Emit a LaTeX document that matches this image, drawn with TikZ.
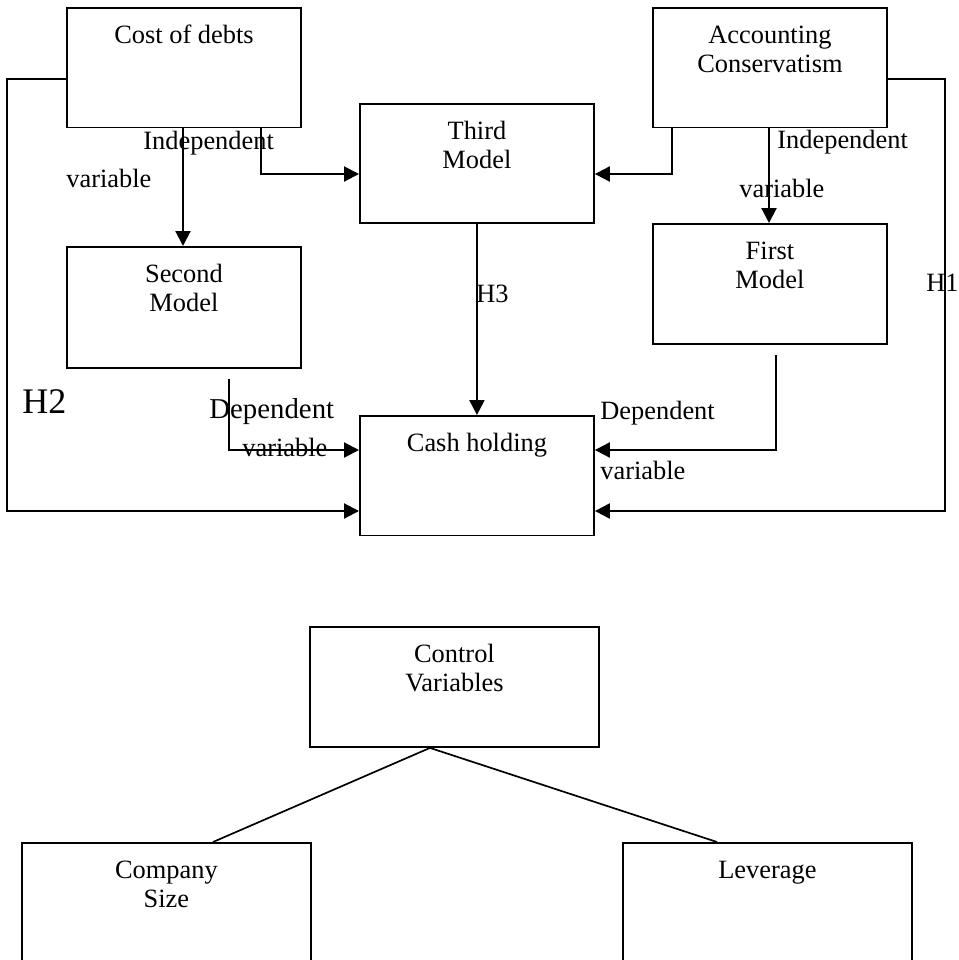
\documentclass[tikz,border=0pt]{standalone}
\usepackage{fontspec}
\setmainfont{Liberation Serif}
\usetikzlibrary{arrows.meta,calc}
\begin{document}
\begin{tikzpicture}[x=0.5pt,y=-0.5pt,
  box/.style={draw, line width=0.95pt, anchor=north west, inner sep=0pt, minimum width=117pt, minimum height=59.75pt},
  wbox/.style={box, minimum width=144.5pt, minimum height=60pt},
  ttl/.style={anchor=base, align=center, inner sep=0pt, font=\fontsize{13.2}{14.8}\selectfont},
  lbl/.style={anchor=base west, inner sep=0pt, font=\fontsize{13.2}{14.8}\selectfont},
  arr/.style={line width=1.05pt, -{Triangle[length=7.5pt,width=7.5pt]}},
  diag/.style={line width=0.85pt}
]
\useasboundingbox (0,0) rectangle (959,960);
\clip (0,0) rectangle (959,960);

% boxes
\node[box] (cod) at (66,7) {};
\node[box] (acc) at (652,7) {};
\node[box, minimum height=59.5pt] (third) at (359,103) {};
\node[box, minimum height=60.5pt] (second) at (66,246) {};
\node[box, minimum height=60pt] (first) at (652,223) {};
\node[box] (cash) at (359,415) {};
\node[wbox] (ctrl) at (309,626) {};
\node[wbox] (comp) at (21,842) {};
\node[wbox] (lev) at (622,842) {};

% box titles (base anchor = baseline of the last line)
\node[ttl] (codT) at ($(cod.north)+(0,36)$) {Cost of debts};
\node[ttl] (accT) at ($(acc.north)+(0,65.6)$) {Accounting\\Conservatism};
\node[ttl] (thirdT) at ($(third.north)+(0,65.6)$) {Third\\Model};
\node[ttl] (secondT) at ($(second.north)+(0,65.6)$) {Second\\Model};
\node[ttl] (firstT) at ($(first.north)+(0,65.6)$) {First\\Model};
\node[ttl] (cashT) at ($(cash.north)+(0,36)$) {Cash holding};
\node[ttl] (ctrlT) at ($(ctrl.north)+(0,65.6)$) {Control\\Variables};
\node[ttl] (compT) at ($(comp.north)+(0,65.6)$) {Company\\Size};
\node[ttl] (levT) at ($(lev.north)+(0,36)$) {Leverage};

% connectors
\coordinate (h2a) at (7,79);
\coordinate (h2b) at (7,511);
\draw[arr] (cod.west |- h2a) -- (h2a) -- (h2b) -- (cash.west |- h2b);
\coordinate (h1a) at (945,79);
\coordinate (h1b) at (945,511);
\draw[arr] (acc.east |- h1a) -- (h1a) -- (h1b) -- (cash.east |- h1b);
\coordinate (c2) at (183,0);
\draw[arr] (cod.south -| c2) -- (second.north -| c2);
\coordinate (c3) at (261,174);
\draw[arr] (cod.south -| c3) -- (c3) -- (third.west |- c3);
\coordinate (a3) at (672,174);
\draw[arr] (acc.south -| a3) -- (a3) -- (third.east |- a3);
\coordinate (a1) at (769,0);
\draw[arr] (acc.south -| a1) -- (first.north -| a1);
\draw[arr] (third.south) -- (cash.north);
\coordinate (s0) at (229,379);
\coordinate (s1) at (229,450);
\draw[arr] (s0) -- (s1) -- (cash.west |- s1);
\coordinate (f0) at (776,355);
\coordinate (f1) at (776,450);
\draw[arr] (f0) -- (f1) -- (cash.east |- f1);
\coordinate (cx) at (430,0);
\coordinate (lx) at (213,0);
\coordinate (rx) at (717,0);
\draw[diag] (comp.north -| lx) -- (ctrl.south -| cx) -- (lev.north -| rx);

% labels
\node[lbl] (ind1) at (143,149) {Independent};
\node[lbl] (var1) at (66,187) {variable};
\node[lbl] (ind2) at (777,148) {Independent};
\node[lbl] (var2) at (739,197) {variable};
\node[lbl] (H1) at (926,291) {H1};
\node[lbl] (H3) at (476,302) {H3};
\node[lbl, font=\fontsize{18}{20}\selectfont] (H2) at (22,413) {H2};
\node[lbl, font=\fontsize{14.4}{16}\selectfont] (dep1) at (209,418) {Dependent};
\node[lbl] (var3) at (242,456) {variable};
\node[lbl] (dep2) at (600,419) {Dependent};
\node[lbl] (var4) at (600,479) {variable};
\end{tikzpicture}
\end{document}
